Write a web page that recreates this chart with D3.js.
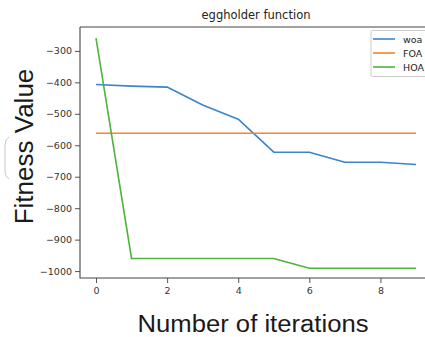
<!DOCTYPE html>
<html><head><meta charset="utf-8">
<script src="https://cdn.jsdelivr.net/npm/d3@7"></script>
<style>body{margin:0;background:#fff;} svg{display:block;font-family:"Liberation Sans","DejaVu Sans",sans-serif;}</style>
</head><body>
<svg id="c" width="425" height="337"></svg>
<script>
const iterations = [0,1,2,3,4,5,6,7,8,9];
const woa = [-407,-412,-415,-472,-517,-622,-622,-654,-654,-661];
const foa = [-562,-562,-562,-562,-562,-562,-562,-562,-562,-562];
const hoa = [-259,-960,-960,-960,-960,-960,-991,-991,-991,-991];
const seriesNames = ["woa","FOA","HOA"];
const seriesColors = ["#3a85cc","#f7842c","#4cb53a"];
const xTicks = [0,2,4,6,8];
const yTicks = [-300,-400,-500,-600,-700,-800,-900,-1000];

const svg = d3.select("#c");
const L=80, R=432, T=27, B=278;
const x = d3.scaleLinear().domain([-0.45,9.45]).range([L,R]);
const y = d3.scaleLinear().domain([-1022,-224]).range([B,T]);

// tick labels & ticks
const xAxis = d3.axisBottom(x).tickValues(xTicks).tickSize(5).tickPadding(4).tickFormat(d3.format("d"));
const gx = svg.append("g").attr("transform",`translate(0,${B})`).call(xAxis);
const yAxis = d3.axisLeft(y).tickValues(yTicks).tickSize(5).tickPadding(3).tickFormat(d=>"\u2212"+Math.abs(d));
const gy = svg.append("g").attr("transform",`translate(${L},0)`).call(yAxis);
[gx,gy].forEach(g=>{
  g.select(".domain").remove();
  g.selectAll(".tick line").attr("stroke","#555").attr("stroke-width",1);
  g.selectAll(".tick text").attr("fill","#333").style("font-size","9.5px").style("font-family","'DejaVu Sans',sans-serif");
});

// spines
svg.append("path").attr("d",`M${L},${T}H${R}M${L},${T}V${B}H${R}M${R},${T}V${B}`)
  .attr("fill","none").attr("stroke","#444").attr("stroke-width",1.1);

const data = [woa,foa,hoa];
const line = d3.line().x((d,i)=>x(iterations[i])).y(d=>y(d));
data.forEach((s,k)=>{
  svg.append("path").datum(s).attr("d",line).attr("fill","none")
    .attr("stroke",seriesColors[k]).attr("stroke-width",1.6).attr("stroke-linejoin","round");
});

// title
svg.append("text").attr("x",(L+R)/2).attr("y",19).attr("text-anchor","middle")
  .style("font-size","11.5px").style("font-family","'DejaVu Sans',sans-serif").attr("fill","#222").text("eggholder function");

// legend
const lg = svg.append("g");
lg.append("rect").attr("x",371).attr("y",30.5).attr("width",60).attr("height",46)
  .attr("fill","#fff").attr("stroke","#ccc").attr("stroke-width",1).attr("rx",1.5);
seriesNames.forEach((n,k)=>{
  const yy = 39 + k*14;
  lg.append("line").attr("x1",373).attr("x2",395).attr("y1",yy).attr("y2",yy)
    .attr("stroke",seriesColors[k]).attr("stroke-width",1.6);
  lg.append("text").attr("x",403).attr("y",yy+3.5).style("font-size","9.5px")
    .style("font-family","'DejaVu Sans',sans-serif").attr("fill","#222").text(n);
});

// axis labels
svg.append("text").attr("transform","translate(33,146.5) rotate(-90)").attr("text-anchor","middle")
  .style("font-size","26px").attr("fill","#1a1a1a").text("Fitness Value");
svg.append("text").attr("x",253).attr("y",332).attr("text-anchor","middle")
  .style("font-size","23px").attr("fill","#1a1a1a").attr("textLength",231).attr("lengthAdjust","spacingAndGlyphs")
  .text("Number of iterations");

// faint bracket artifact at the left edge
svg.append("path").attr("d","M9,137 Q5,139 5,145 L5,171 Q5,177 9,179")
  .attr("fill","none").attr("stroke","#c8c8c8").attr("stroke-width",1);
</script>
</body></html>
